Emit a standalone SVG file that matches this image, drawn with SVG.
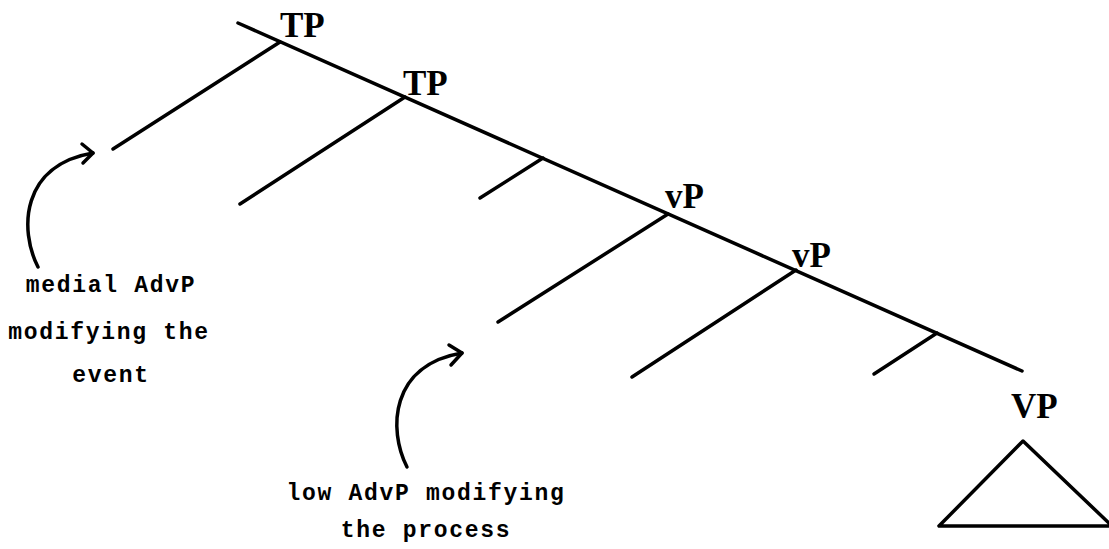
<svg xmlns="http://www.w3.org/2000/svg" width="1109" height="549" viewBox="0 0 1109 549">
<defs>
<style>
.ln{stroke:#000;stroke-width:3.5;fill:none;stroke-linecap:round;stroke-linejoin:round}
.lab{font-weight:bold;fill:#000}
.node{font-family:'Liberation Serif','Times New Roman',serif;font-size:35px}
.note{font-family:'Liberation Mono','Courier New',monospace;font-size:23px;letter-spacing:1.7px;text-anchor:middle}
</style>
</defs>
<rect width="1109" height="549" fill="#fff"/>
<g id="connectors">
<path class="ln" d="M238,23 L1022,371"/>
<path class="ln" d="M280,42 L113,149"/>
<path class="ln" d="M405,97 L240,204"/>
<path class="ln" d="M543,158 L480,198"/>
<path class="ln" d="M668,214 L498,322"/>
<path class="ln" d="M796,270 L632,377"/>
<path class="ln" d="M937,333 L874,374"/>
<path class="ln" d="M38,267 C19,230 21,165 93,153"/>
<path class="ln" d="M82,144 L93,153 L83,163"/>
<path class="ln" d="M407,467 C388,430 390,365 462,353"/>
<path class="ln" d="M449,345 L462,353 L451,365"/>
</g>
<g id="tp1"><text class="lab node" x="280" y="37">TP</text></g>
<g id="tp2"><text class="lab node" x="403" y="95">TP</text></g>
<g id="vp1"><text class="lab node" x="665" y="208">vP</text></g>
<g id="vp2"><text class="lab node" x="792" y="267">vP</text></g>
<g id="vp3"><text class="lab node" x="1011" y="418">VP</text>
<path class="ln" d="M1023,441 L939,526 L1112,526 Z"/></g>
<g id="note1">
<text class="lab note" x="111" y="292">medial AdvP</text>
<text class="lab note" x="109" y="339">modifying the</text>
<text class="lab note" x="111" y="382">event</text>
</g>
<g id="note2">
<text class="lab note" x="426" y="500">low AdvP modifying</text>
<text class="lab note" x="426" y="537">the process</text>
</g>
</svg>
